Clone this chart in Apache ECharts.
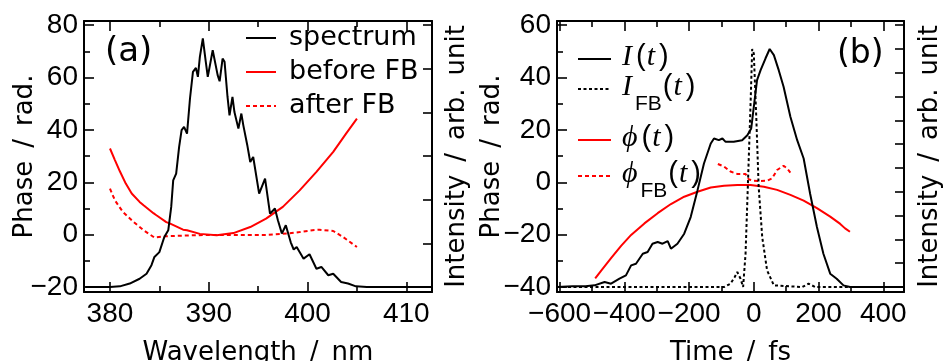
<!DOCTYPE html>
<html><head><meta charset="utf-8">
<script src="https://cdn.jsdelivr.net/npm/echarts@6/dist/echarts.min.js"></script>
<style>html,body{margin:0;padding:0;background:#fff}#c{width:944px;height:361px}</style>
</head><body><div id="c"></div>
<script>
// ---------- Panel (a) data ----------
const wavelength = [377.5, 380.0, 381.0, 382.0, 383.0, 383.7, 384.2, 384.5, 385.0, 385.5, 385.9, 386.2, 386.4, 386.7, 387.0, 387.25, 387.5, 387.8, 388.1, 388.4, 388.7, 388.9, 389.1, 389.4, 389.7, 389.9, 390.1, 390.4, 390.6, 390.9, 391.1, 391.4, 391.6, 391.9, 392.1, 392.4, 392.6, 393.0, 393.3, 393.5, 393.9, 394.2, 394.5, 395.1, 395.7, 396.2, 396.7, 397.0, 397.4, 397.8, 398.3, 398.6, 398.9, 399.6, 400.2, 400.9, 401.4, 402.1, 402.6, 403.4, 404.1, 404.9, 406.0, 412.5];
const spectrum = [0, 0, 0.003, 0.016, 0.038, 0.061, 0.1, 0.138, 0.16, 0.229, 0.26, 0.367, 0.489, 0.52, 0.642, 0.719, 0.734, 0.703, 0.864, 0.986, 1.004, 0.963, 1.055, 1.139, 1.032, 0.963, 0.956, 1.085, 1.078, 0.971, 0.943, 1.047, 1.032, 0.871, 0.787, 0.871, 0.802, 0.726, 0.795, 0.741, 0.65, 0.573, 0.596, 0.428, 0.497, 0.336, 0.36, 0.306, 0.245, 0.283, 0.205, 0.172, 0.183, 0.13, 0.15, 0.084, 0.092, 0.054, 0.061, 0.023, 0.016, 0.003, 0, 0];
const wlBefore = [380.0, 380.5, 381.0, 381.6, 382.2, 383.0, 383.4, 384.4, 384.7, 385.7, 386.1, 387.4, 387.8, 389.1, 390.8, 392.5, 394.2, 395.8, 397.5, 399.2, 400.9, 402.6, 403.9, 405.0];
const phaseBefore = [32.9, 28.5, 24.2, 19.5, 15.7, 12.5, 11.2, 8.2, 7.4, 4.8, 4.2, 1.9, 1.7, 0.3, -0.2, 0.6, 2.9, 6.1, 10.6, 16.9, 24.0, 31.6, 38.6, 44.3];
const wlAfter = [380.0, 380.5, 381.3, 382.4, 383.4, 384.5, 385.7, 387.8, 389.8, 392.5, 395.8, 397.9, 399.2, 400.5, 401.2, 402.6, 403.6, 405.0];
const phaseAfter = [17.6, 13.1, 8.7, 4.8, 1.7, -1.1, -0.6, -0.3, -0.1, -0.1, -0.1, 0.4, 1.0, 1.7, 1.9, 1.4, -0.9, -4.7];

// ---------- Panel (b) data ----------
const timeI = [-608, -560, -520, -492, -461, -441, -415, -395, -379, -364, -343, -328, -313, -297, -282, -266, -256, -236, -215, -195, -174, -154, -133, -123, -108, -97, -87, -62, -36, -20, -8, 0, 10, 21, 36, 49, 62, 77, 92, 113, 134, 154, 174, 195, 215, 236, 256, 277, 297, 464];
const intensityI = [0, 0.003, 0.003, 0.007, 0.021, 0.014, 0.035, 0.049, 0.091, 0.098, 0.14, 0.147, 0.182, 0.189, 0.182, 0.193, 0.161, 0.182, 0.224, 0.294, 0.406, 0.519, 0.603, 0.624, 0.617, 0.624, 0.61, 0.61, 0.617, 0.638, 0.666, 0.757, 0.869, 0.911, 0.96, 1.0, 0.974, 0.911, 0.841, 0.715, 0.617, 0.54, 0.392, 0.252, 0.14, 0.056, 0.035, 0.007, 0, 0];
const timeIFB = [-608, -92, -72, -59, -51, -41, -33, -25.5, -18.5, -10, -5, 0, 8, 15, 26, 41, 62, 150, 169, 190, 464];
const intensityIFB = [0, 0, 0.014, 0.042, 0.063, 0.035, 0, 0.14, 0.42, 0.77, 1.0, 0.981, 0.7, 0.42, 0.21, 0.07, 0.007, 0, 0.014, 0, 0];
const timePhi = [-490, -472, -441, -410, -379, -338, -297, -256, -215, -174, -133, -92, -51, -10, 31, 72, 113, 154, 195, 236, 267, 282, 297];
const phasePhi = [-36.7, -33.8, -29.0, -24.3, -20.1, -15.7, -11.8, -8.3, -5.5, -3.6, -2.0, -1.3, -1.0, -1.0, -1.7, -2.9, -4.8, -7.0, -9.9, -13.1, -15.9, -17.6, -18.9];
const timePhiFB = [-111, -92, -72, -51, -25.5, -15, 0, 20.6, 41, 56.6, 72, 92, 103, 113];
const phasePhiFB = [7.0, 6.0, 4.1, 3.2, 3.2, 1.1, 0.6, 0.5, 0.6, 1.5, 4.7, 6.3, 5.3, 3.7];

// ---------- Tick labels ----------
const wlMajor = [380, 390, 400, 410];
const wlMinor = [385, 395, 405];
const phaseAMajor = [-20, 0, 20, 40, 60, 80];
const phaseAMinor = [-10, 10, 30, 50, 70];
const intensATicks = [0, 0.2, 0.4, 0.6, 0.8, 1.0, 1.2];
const timeMajor = [-600, -400, -200, 0, 200, 400];
const timeMinor = [-500, -300, -100, 100, 300];
const phaseBMajor = [-40, -20, 0, 20, 40, 60];
const phaseBMinor = [-30, -10, 10, 30, 50];
const intensBTicks = [0, 0.1, 0.2, 0.3, 0.4, 0.5, 0.6, 0.7, 0.8, 0.9, 1.0, 1.1];

// ---------- view ranges ----------
const aX = [377.37, 412.6], aY = [-21.9, 81.6];
const bX = [-608, 464], bY = [-41.9, 61.6];
const aI = [(aY[0] + 20) * 0.012, (aY[1] + 20) * 0.012];
const bI = [(bY[0] + 40) * 0.011, (bY[1] + 40) * 0.011];

const NUM = '"Liberation Sans", Arial, sans-serif';
const TXT = '"DejaVu Sans", sans-serif';
const SERIF = '"Liberation Serif", "Times New Roman", serif';
const minus = v => (v < 0 ? '\u2212' + Math.abs(v) : String(v));
const zip = (a, b) => a.map((v, i) => [v, b[i]]);

function xAx(grid, range, pos, ticks, len, opts) {
  return Object.assign({
    type: 'value', gridIndex: grid, min: range[0], max: range[1], position: pos,
    axisLine: { show: false, onZero: false, lineStyle: { color: '#000', width: 2 } },
    axisTick: { show: true, inside: true, length: len, customValues: ticks, lineStyle: { color: '#000', width: 1.6 } },
    axisLabel: { show: false }, splitLine: { show: false }
  }, opts || {});
}
function yAx(grid, range, pos, ticks, len, opts) {
  return Object.assign({
    type: 'value', gridIndex: grid, min: range[0], max: range[1], position: pos,
    axisLine: { show: false, onZero: false, lineStyle: { color: '#000', width: 2 } },
    axisTick: { show: true, inside: true, length: len, customValues: ticks, lineStyle: { color: '#000', width: 1.6 } },
    axisLabel: { show: false }, splitLine: { show: false }, nameMoveOverlap: false
  }, opts || {});
}
const lineOn = { show: true, onZero: false, lineStyle: { color: '#000', width: 2 } };
const numLabel = (vals, margin) => ({ show: true, customValues: vals, formatter: minus, fontFamily: NUM, fontSize: 28, color: '#000', margin: margin });
const nameStyle = { fontFamily: TXT, fontSize: 26, color: '#000' };

const xAxis = [
  xAx(0, aX, 'bottom', wlMajor, 10, { axisLine: lineOn, axisLabel: numLabel(wlMajor, 8), name: 'Wavelength\u2002/\u2002nm', nameLocation: 'middle', nameGap: 48, nameTextStyle: nameStyle, nameMoveOverlap: false }),
  xAx(0, aX, 'bottom', wlMinor, 6),
  xAx(0, aX, 'top', wlMajor, 10, { axisLine: lineOn }),
  xAx(0, aX, 'top', wlMinor, 6),
  xAx(1, bX, 'bottom', timeMajor, 10, { axisLine: lineOn, axisLabel: numLabel(timeMajor, 8), name: 'Time\u2002/\u2002fs', nameLocation: 'middle', nameGap: 48, nameTextStyle: nameStyle, nameMoveOverlap: false }),
  xAx(1, bX, 'bottom', timeMinor, 6),
  xAx(1, bX, 'top', timeMajor, 10, { axisLine: lineOn }),
  xAx(1, bX, 'top', timeMinor, 6)
];
const yAxis = [
  yAx(0, aY, 'left', phaseAMajor, 10, { axisLine: lineOn, axisLabel: numLabel(phaseAMajor, 6), name: 'Phase\u2002/\u2002rad.', nameLocation: 'middle', nameGap: 46, nameTextStyle: nameStyle }),
  yAx(0, aY, 'left', phaseAMinor, 6),
  yAx(0, aI, 'right', intensATicks, 9, { axisLine: lineOn, name: 'Intensity\u2002/\u2002arb.\u2002unit', nameLocation: 'middle', nameGap: 12, nameRotate: 90, nameTextStyle: nameStyle }),
  yAx(1, bY, 'left', phaseBMajor, 10, { axisLine: lineOn, axisLabel: numLabel(phaseBMajor, 6), name: 'Phase\u2002/\u2002rad.', nameLocation: 'middle', nameGap: 52, nameTextStyle: nameStyle }),
  yAx(1, bY, 'left', phaseBMinor, 6),
  yAx(1, bI, 'right', intensBTicks, 9, { axisLine: lineOn, name: 'Intensity\u2002/\u2002arb.\u2002unit', nameLocation: 'middle', nameGap: 13, nameRotate: 90, nameTextStyle: nameStyle })
];

const RED = '#ff0000';
const ser = (name, xi, yi, data, color, type) => ({
  name, type: 'line', xAxisIndex: xi, yAxisIndex: yi, data, symbol: 'none', showSymbol: false,
  lineStyle: { color, width: 2, type: type || 'solid' }, itemStyle: { color }, z: 3
});

const series = [
  ser('before FB', 0, 0, zip(wlBefore, phaseBefore), RED),
  ser('after FB', 0, 0, zip(wlAfter, phaseAfter), RED, [4, 3]),
  ser('spectrum', 0, 2, zip(wavelength, spectrum), '#000'),
  ser('phi', 4, 3, zip(timePhi, phasePhi), RED),
  ser('phiFB', 4, 3, zip(timePhiFB, phasePhiFB), RED, [4, 3]),
  ser('I', 4, 5, zip(timeI, intensityI), '#000'),
  ser('IFB', 4, 5, zip(timeIFB, intensityIFB), '#000', [3, 2.5])
];

const rich = {
  i: { fontFamily: SERIF, fontStyle: 'italic', fontSize: 30, lineHeight: 34, verticalAlign: 'top', color: '#000', padding: [0, 3, 0, 0] },
  p: { fontFamily: NUM, fontSize: 29, lineHeight: 34, verticalAlign: 'top', color: '#000', padding: [0, 1, 0, 1] },
  s: { fontFamily: NUM, fontSize: 21, lineHeight: 20, verticalAlign: 'top', color: '#000', padding: [22, 0, 0, 0] }
};
const legendLabels = {
  'I': '{i|I}{p|(}{i|t}{p|)}',
  'IFB': '{i|I}{s|FB}{p|(}{i|t}{p|)}',
  'phi': '{i|\u03D5}{p|(}{i|t}{p|)}',
  'phiFB': '{i|\u03D5}{s|FB}{p|(}{i|t}{p|)}'
};
const noSymbol = { opacity: 0 };
const bLegend = (name, top) => ({
  data: [name], orient: 'vertical', left: 577, top: top, padding: 0, itemWidth: 33, itemHeight: 2,
  itemStyle: noSymbol, formatter: n => legendLabels[n], selectedMode: false,
  textStyle: { rich: rich, padding: [0, 0, 0, 6] }
});

const option = {
  animation: false,
  backgroundColor: '#fff',
  grid: [
    { left: 84, top: 21, width: 348, height: 271, outerBoundsMode: 'none', containLabel: false },
    { left: 557, top: 21, width: 347, height: 271, outerBoundsMode: 'none', containLabel: false }
  ],
  title: [
    { text: '(a)', left: 105, top: 35, padding: 0, textStyle: { fontFamily: TXT, fontSize: 34, fontWeight: 'normal', color: '#000' } },
    { text: '(b)', left: 837, top: 38, padding: 0, textStyle: { fontFamily: TXT, fontSize: 33, fontWeight: 'normal', color: '#000' } }
  ],
  legend: [
    { data: ['spectrum', 'before FB', 'after FB'], orient: 'vertical', left: 245, top: 21, padding: 0, itemGap: 0,
      itemWidth: 30, itemHeight: 2, itemStyle: noSymbol, selectedMode: false,
      textStyle: { fontFamily: TXT, fontSize: 27, color: '#000', lineHeight: 34, padding: [0, 0, 0, 8] } },
    bLegend('I', 42), bLegend('IFB', 72), bLegend('phi', 123), bLegend('phiFB', 159)
  ],
  xAxis, yAxis, series
};
const chart = echarts.init(document.getElementById('c'), null, { renderer: 'canvas' });
chart.setOption(option);
</script>
</body></html>
